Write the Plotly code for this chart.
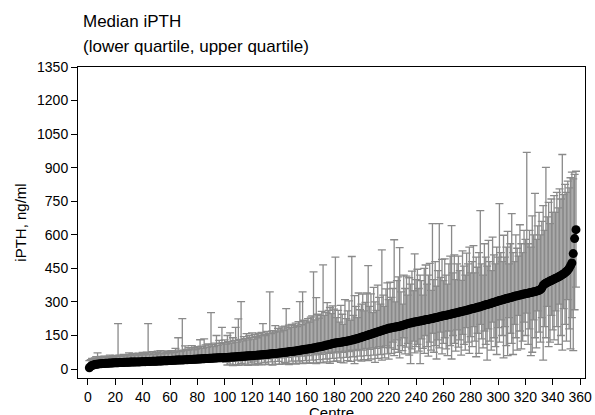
import plotly.graph_objects as go

median_ipth = [
    6, 12, 16, 18, 20, 21, 22, 23, 24, 24, 25, 25, 26, 26, 26, 27, 27, 27, 28, 28,
    28, 28, 29, 29, 29, 29, 30, 30, 30, 30, 31, 31, 31, 31, 32, 32, 32, 32, 33, 33,
    33, 33, 34, 34, 34, 34, 35, 35, 35, 35, 36, 36, 36, 36, 37, 37, 37, 37, 38, 38,
    38, 39, 39, 39, 40, 40, 40, 41, 41, 41, 42, 42, 42, 43, 43, 43, 44, 44, 44, 45,
    45, 45, 46, 46, 46, 47, 47, 47, 48, 48, 48, 49, 49, 49, 50, 50, 50, 51, 51, 52,
    52, 52, 53, 53, 54, 54, 54, 55, 55, 56, 56, 57, 57, 57, 58, 58, 59, 59, 60, 60,
    61, 61, 62, 62, 63, 63, 64, 64, 65, 65, 66, 66, 67, 68, 68, 69, 70, 70, 71, 72,
    72, 73, 74, 75, 75, 76, 77, 78, 78, 79, 80, 81, 82, 83, 84, 85, 86, 87, 88, 89,
    90, 91, 92, 93, 94, 95, 96, 98, 99, 100, 101, 103, 104, 106, 107, 109, 110, 112, 114, 115,
    116, 117, 118, 119, 120, 121, 122, 123, 124, 125, 127, 128, 130, 131, 133, 134, 136, 138, 140, 142,
    144, 146, 148, 150, 152, 154, 156, 158, 160, 162, 164, 166, 168, 170, 172, 174, 176, 178, 180, 182,
    183, 184, 186, 187, 188, 189, 190, 191, 193, 195, 197, 199, 201, 203, 205, 206, 207, 209, 210, 211,
    212, 214, 215, 216, 217, 219, 220, 221, 222, 224, 225, 226, 228, 229, 230, 232, 234, 235, 237, 238,
    239, 240, 242, 243, 245, 246, 248, 249, 251, 252, 254, 255, 257, 258, 260, 261, 263, 264, 266, 268,
    269, 271, 272, 274, 276, 277, 279, 281, 283, 285, 287, 289, 290, 292, 294, 296, 298, 300, 302, 304,
    306, 308, 309, 311, 313, 315, 316, 318, 320, 321, 323, 325, 326, 328, 329, 331, 332, 334, 335, 337,
    338, 339, 341, 342, 343, 345, 346, 348, 350, 352, 355, 362, 374, 380, 384, 387, 390, 393, 396, 399,
    402, 405, 408, 411, 414, 418, 422, 426, 430, 436, 442, 450, 462, 474, 516, 583, 623,
]

upper_quartile = [
    38, 42, 48, 45, 50, 55, 72, 47, 52, 56, 50, 58, 54, 51, 57, 62, 53, 59, 55, 61,
    58, 203, 62, 56, 60, 66, 59, 64, 61, 72, 66, 60, 70, 63, 68, 62, 71, 65, 69, 74,
    64, 70, 75, 203, 66, 72, 78, 68, 65, 73, 80, 70, 82, 68, 76, 81, 69, 75, 78, 72,
    82, 77, 74, 92, 80, 140, 85, 78, 225, 82, 104, 88, 84, 96, 90, 105, 86, 96, 89, 100,
    94, 131, 102, 92, 135, 108, 97, 112, 104, 252, 110, 100, 116, 150, 106, 128, 114, 186, 118, 130,
    112, 150, 122, 162, 116, 140, 128, 186, 120, 224, 132, 301, 126, 145, 136, 158, 130, 150, 142, 162,
    134, 155, 146, 140, 160, 150, 164, 203, 155, 150, 168, 160, 345, 158, 172, 165, 194, 170, 182, 166,
    178, 188, 172, 192, 270, 180, 196, 186, 200, 186, 194, 205, 190, 212, 301, 198, 345, 218, 206, 214,
    225, 210, 232, 238, 434, 220, 319, 245, 228, 239, 258, 466, 240, 252, 297, 262, 275, 248, 282, 268,
    500, 230, 262, 210, 285, 245, 200, 310, 225, 260, 305, 218, 503, 240, 328, 280, 230, 340, 265, 290,
    335, 260, 298, 340, 462, 280, 336, 252, 365, 300, 262, 375, 320, 290, 533, 330, 280, 358, 385, 310,
    388, 320, 360, 578, 300, 395, 412, 543, 345, 290, 420, 360, 415, 330, 408, 380, 438, 350, 515, 400,
    446, 360, 420, 395, 330, 450, 465, 380, 420, 472, 352, 650, 400, 480, 370, 440, 650, 410, 490, 395,
    492, 420, 380, 470, 505, 641, 430, 510, 400, 470, 505, 440, 396, 528, 460, 420, 518, 470, 545, 430,
    480, 552, 430, 500, 455, 520, 708, 470, 420, 560, 500, 460, 575, 480, 440, 590, 510, 470, 545, 500,
    739, 520, 480, 598, 500, 545, 615, 470, 560, 695, 520, 480, 600, 540, 505, 645, 560, 520, 620, 580,
    968, 560, 620, 545, 685, 600, 785, 580, 640, 700, 600, 660, 730, 620, 901, 680, 745, 650, 760, 700,
    775, 700, 790, 720, 805, 760, 959, 780, 825, 790, 840, 810, 855, 880, 850, 870, 884,
]

lower_quartile = [
    3, 6, 8, 10, 11, 12, 12, 13, 14, 13, 15, 14, 15, 16, 15, 16, 17, 16, 17, 18,
    17, 18, 18, 17, 19, 18, 19, 20, 19, 20, 20, 19, 21, 20, 21, 22, 21, 20, 22, 22,
    21, 23, 22, 23, 21, 24, 23, 24, 22, 25, 24, 23, 25, 24, 26, 25, 24, 26, 27, 25,
    26, 27, 25, 28, 27, 26, 28, 29, 27, 28, 30, 28, 29, 31, 29, 30, 32, 30, 31, 33,
    30, 32, 34, 31, 33, 35, 32, 34, 36, 33, 35, 37, 34, 36, 38, 35, 37, 39, 36, 38,
    30, 18, 38, 22, 34, 15, 40, 20, 36, 16, 42, 25, 18, 44, 22, 38, 17, 46, 28, 20,
    36, 18, 48, 25, 20, 44, 19, 50, 30, 22, 46, 20, 52, 32, 18, 48, 22, 55, 34, 21,
    50, 22, 58, 30, 24, 52, 20, 60, 35, 25, 56, 22, 62, 36, 26, 58, 24, 65, 38, 28,
    60, 26, 68, 40, 28, 63, 24, 70, 42, 30, 66, 28, 72, 45, 32, 70, 26, 75, 48, 34,
    72, 36, 78, 50, 30, 75, 28, 80, 52, 38, 78, 34, 84, 55, 24, 82, 40, 88, 58, 36,
    85, 42, 92, 60, 38, 88, 45, 95, 62, 30, 92, 48, 100, 65, 40, 96, 50, 104, 68, 44,
    95, 70, 120, 60, 88, 130, 75, 50, 105, 82, 140, 68, 98, 115, 62, 24, 90, 125, 72, 100,
    110, 80, 24, 135, 92, 70, 150, 100, 58, 120, 85, 160, 75, 105, 45, 130, 95, 165, 68, 115,
    140, 90, 60, 170, 105, 45, 150, 115, 80, 175, 98, 130, 62, 155, 110, 85, 185, 120, 70, 145,
    100, 190, 125, 55, 160, 70, 200, 135, 95, 170, 110, 40, 180, 125, 85, 210, 140, 100, 65, 185,
    120, 220, 150, 50, 190, 105, 60, 230, 160, 115, 65, 200, 140, 85, 240, 170, 90, 125, 210, 150,
    250, 110, 180, 60, 75, 220, 140, 95, 260, 165, 120, 230, 40, 190, 140, 280, 100, 120, 240, 175,
    130, 260, 190, 110, 290, 150, 85, 270, 200, 125, 310, 180, 90, 230, 82, 265, 366,
]

centres = list(range(1, len(median_ipth) + 1))
x_ticks = list(range(0, 361, 20))
y_ticks = list(range(0, 1351, 150))

if not (len(median_ipth) == len(upper_quartile) == len(lower_quartile)):
    raise ValueError(f"lengths {len(median_ipth)} {len(upper_quartile)} {len(lower_quartile)}")

err_plus = [u - m for u, m in zip(upper_quartile, median_ipth)]
err_minus = [m - l for m, l in zip(median_ipth, lower_quartile)]

FONT = "Liberation Sans, Arial, sans-serif"

fig = go.Figure()
fig.add_trace(go.Scatter(
    x=centres, y=median_ipth, mode="markers",
    marker=dict(color="black", size=9, line=dict(width=0)),
    error_y=dict(type="data", symmetric=False, array=err_plus, arrayminus=err_minus,
                 color="#8a8a8a", thickness=1.3, width=4),
    showlegend=False,
))

axis_common = dict(showline=True, linecolor="black", linewidth=1, mirror=True,
                   ticks="outside", ticklen=6, tickcolor="black", tickwidth=1,
                   showgrid=False, zeroline=False, automargin=False,
                   tickfont=dict(family=FONT, size=14, color="black"))

fig.update_xaxes(range=[-7.3, 363.6], tickvals=x_ticks, **axis_common)
fig.update_yaxes(range=[-40, 1350], tickvals=y_ticks, **axis_common)

fig.update_layout(
    width=595, height=415,
    margin=dict(l=78, r=10, t=67, b=37),
    paper_bgcolor="white", plot_bgcolor="white",
    font=dict(family=FONT, size=14, color="black"),
    annotations=[
        dict(text="Median iPTH", xref="paper", yref="paper", x=0.006, y=1.1447,
             xanchor="left", yanchor="middle", showarrow=False,
             font=dict(family=FONT, size=17, color="black")),
        dict(text="(lower quartile, upper quartile)", xref="paper", yref="paper",
             x=0.006, y=1.0675, xanchor="left", yanchor="middle", showarrow=False,
             font=dict(family=FONT, size=17, color="black")),
        dict(text="iPTH, ng/ml", xref="paper", yref="paper", x=-0.114, y=0.5,
             xanchor="center", yanchor="middle", textangle=-90, showarrow=False,
             font=dict(family=FONT, size=15, color="black")),
        dict(text="Centre", xref="paper", yref="paper", x=0.5, y=-0.077,
             xanchor="center", yanchor="top", showarrow=False,
             font=dict(family=FONT, size=15, color="black")),
    ],
)

fig.write_html("out.html", config={"displayModeBar": False},
               post_script="document.body.style.margin='0';")
